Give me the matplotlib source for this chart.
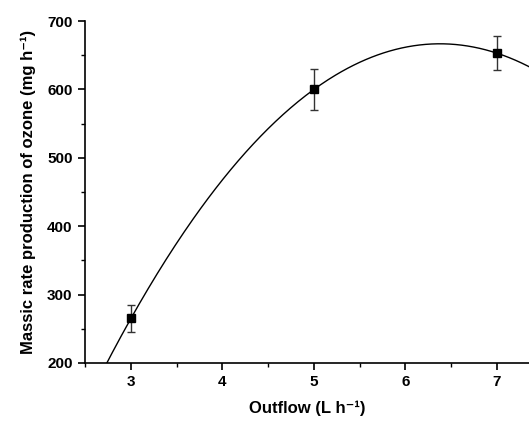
import matplotlib.pyplot as plt
import numpy as np
from matplotlib.ticker import MultipleLocator

outflow = [3, 5, 7]
ozone_rate = [265, 600, 653]
ozone_err = [20, 30, 25]

plt.rcParams['font.family'] = ['Liberation Sans', 'DejaVu Sans']
plt.rcParams['font.weight'] = 'bold'

fig = plt.figure(figsize=(5.29, 4.21), dpi=100)
ax = fig.add_axes([0.161, 0.138, 0.839, 0.812])

# quadratic fit through the measured points
coef = np.polyfit(outflow, ozone_rate, 2)
xs = np.linspace(2.5, 7.4, 300)
ax.plot(xs, np.polyval(coef, xs), color='black', lw=1.0)

ax.errorbar(outflow, ozone_rate, yerr=ozone_err, fmt='s', color='black',
            ms=6, capsize=3, elinewidth=1.0, capthick=1.0, ecolor='#333333')

ax.set_xlim(2.5, 7.35)
ax.set_ylim(200, 700)
ax.xaxis.set_major_locator(MultipleLocator(1))
ax.xaxis.set_minor_locator(MultipleLocator(0.5))
ax.yaxis.set_major_locator(MultipleLocator(100))
ax.yaxis.set_minor_locator(MultipleLocator(50))

for s in ['top', 'right']:
    ax.spines[s].set_visible(False)
for s in ['left', 'bottom']:
    ax.spines[s].set_linewidth(1.2)

ax.tick_params(which='major', length=5, width=1.2, labelsize=11, pad=4)
ax.tick_params(which='minor', length=3, width=1.0)
for lab in ax.get_xticklabels() + ax.get_yticklabels():
    lab.set_fontweight('bold')

ax.set_xlabel('Outflow (L h\u207b\u00b9)', fontsize=12, fontweight='bold', labelpad=8)
ax.set_ylabel('Massic rate production of ozone (mg h\u207b\u00b9)', fontsize=12,
              fontweight='bold', labelpad=8)

fig.savefig('out.png', dpi=100)
